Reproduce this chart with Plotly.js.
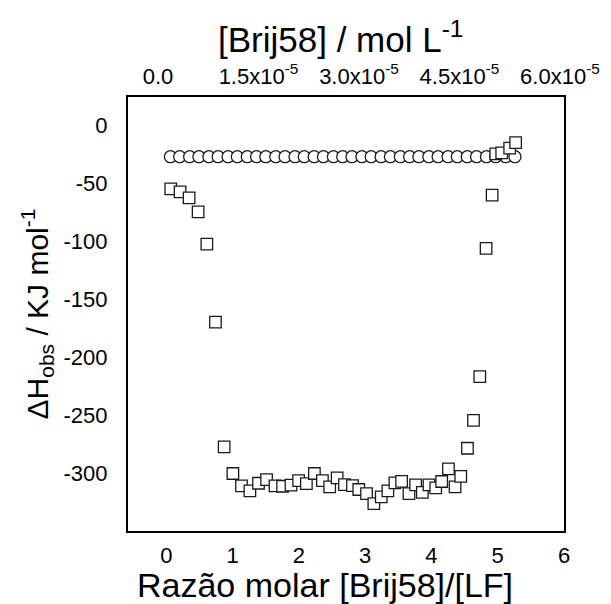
<!DOCTYPE html>
<html>
<head>
<meta charset="utf-8">
<script src="https://cdn.plot.ly/plotly-3.0.1.min.js"></script>
<style>html,body{margin:0;padding:0;background:#fff;}#chart{width:611px;height:604px;}</style>
</head>
<body>
<div id="chart"></div>
<script>
// Circles (top series)
const circleX = [0.06, 0.20, 0.35, 0.49, 0.64, 0.78, 0.93, 1.07, 1.22, 1.36, 1.50, 1.65, 1.79, 1.94, 2.08, 2.23, 2.37, 2.52, 2.66, 2.80, 2.95, 3.09, 3.24, 3.38, 3.53, 3.67, 3.81, 3.96, 4.10, 4.25, 4.39, 4.54, 4.68, 4.83, 4.97, 5.12, 5.26];
const circleY = [-27, -27, -27, -27, -27, -27, -27, -27, -27, -27, -27, -27, -27, -27, -27, -27, -27, -27, -27, -27, -27, -27, -27, -27, -27, -27, -27, -27, -27, -27, -27, -27, -27, -27, -27, -27, -27];
// Squares (titration series)
const squareX = [0.065, 0.206, 0.342, 0.478, 0.610, 0.740, 0.871, 1.003, 1.133, 1.260, 1.390, 1.511, 1.638, 1.753, 1.880, 1.995, 2.112, 2.233, 2.354, 2.464, 2.576, 2.687, 2.808, 2.903, 3.020, 3.130, 3.242, 3.342, 3.448, 3.549, 3.660, 3.761, 3.862, 3.962, 4.064, 4.154, 4.256, 4.356, 4.442, 4.543, 4.634, 4.729, 4.824, 4.915, 4.97, 5.06, 5.18, 5.27];
const squareY = [-54.7, -57.3, -62.5, -74.6, -102.4, -169.7, -277.4, -300.4, -311.0, -315.3, -308.8, -305.6, -311.0, -311.4, -310.5, -306.5, -309.1, -300.4, -306.5, -311.9, -304.1, -309.9, -310.8, -314.2, -317.7, -326.3, -320.5, -315.3, -308.4, -307.1, -317.7, -310.2, -316.6, -310.2, -312.8, -307.3, -296.4, -311.9, -302.8, -278.6, -254.5, -216.8, -106.2, -60.2, -24.6, -23.7, -19.7, -14.8];
// Axis ticks
const bottomTicks = [0, 1, 2, 3, 4, 5, 6];
const topTickVals = [0, 1.5e-5, 3.0e-5, 4.5e-5, 6.0e-5];
const topTickText = ["0.0", "1.5x10<sup>-5</sup>", "3.0x10<sup>-5</sup>", "4.5x10<sup>-5</sup>", "6.0x10<sup>-5</sup>"];
const yTicks = [0, -50, -100, -150, -200, -250, -300];
const yTickText = ["0", "-50", "-100", "-150", "-200", "-250", "-300"];

const FONT = "Liberation Sans, Arial, sans-serif";
const markerLine = {color: '#1a1a1a', width: 1.3};

const traces = [
  {x: circleX, y: circleY, type: 'scatter', mode: 'markers',
   marker: {symbol: 'circle', size: 12, color: '#ffffff', line: markerLine}, hoverinfo: 'skip'},
  {x: squareX, y: squareY, type: 'scatter', mode: 'markers',
   marker: {symbol: 'square', size: 11.5, color: '#ffffff', line: markerLine}, hoverinfo: 'skip'},
  {x: [0], y: [null], xaxis: 'x2', yaxis: 'y', type: 'scatter', mode: 'markers', hoverinfo: 'skip'}
];

const layout = {
  width: 611, height: 604,
  margin: {l: 128, r: 47, t: 97, b: 73},
  paper_bgcolor: '#fff', plot_bgcolor: '#fff',
  showlegend: false,
  font: {family: FONT, color: '#000'},
  xaxis: {
    range: [-0.58, 6.0], tickvals: bottomTicks, ticks: '', showgrid: false, zeroline: false,
    showline: true, mirror: true, linecolor: '#000', linewidth: 2,
    tickfont: {size: 22, family: FONT}, ticklabelstandoff: 4
  },
  xaxis2: {
    overlaying: 'x', side: 'top', anchor: 'y',
    range: [-4.48e-6, 6.06e-5], tickvals: topTickVals, ticktext: topTickText, ticks: '',
    showgrid: false, zeroline: false, showline: false,
    tickfont: {size: 22, family: FONT}, ticklabelstandoff: 8
  },
  yaxis: {
    range: [-350, 24.5], tickvals: yTicks, ticktext: yTickText, ticks: '', showgrid: false, zeroline: false,
    showline: true, mirror: true, linecolor: '#000', linewidth: 2,
    tickfont: {size: 22, family: FONT}, ticklabelstandoff: 14,
    title: {text: 'ΔH<sub>obs</sub> / KJ mol<sup>-1</sup>', font: {size: 30, family: FONT}, standoff: 6}
  },
  annotations: [
    {text: 'Razão molar [Brij58]/[LF]', xref: 'paper', yref: 'paper', x: 0.452, y: -0.124,
     xanchor: 'center', yanchor: 'middle', showarrow: false, borderpad: 0, font: {size: 34, family: FONT}},
    {text: '[Brij58] / mol L<sup>-1</sup>', xref: 'paper', yref: 'paper', x: 0.489, y: 1.138,
     xanchor: 'center', yanchor: 'middle', showarrow: false, borderpad: 0, font: {size: 35, family: FONT}}
  ]
};

Plotly.newPlot('chart', traces, layout, {staticPlot: true, displayModeBar: false});
</script>
</body>
</html>
